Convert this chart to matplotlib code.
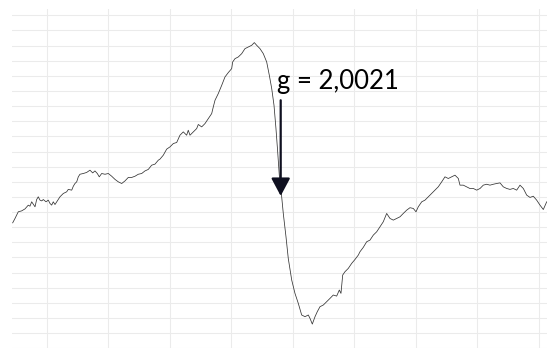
import matplotlib
matplotlib.use("Agg")
import matplotlib.pyplot as plt

# EPR-like spectrum (field in grid units x10, intensity in grid units)
field = [-5.53, -5.15, -4.62, -4.07, -3.53, -2.99, -2.72, -2.44, -2.18, -1.90,
         -1.63, -1.37, -1.09, -0.81, -0.55, -0.11, 0.26, 0.54, 0.81, 1.07,
         1.35, 1.63, 2.16, 2.70, 3.25, 3.51, 4.07, 4.33, 4.60, 4.88,
         5.14, 5.41, 5.95, 6.50, 7.04, 7.48, 7.85, 8.23, 8.55, 8.94,
         9.48, 10.02, 10.57, 11.11, 11.64, 12.20, 12.73, 13.27, 13.82, 14.36,
         14.89, 15.45, 15.98, 16.52, 17.07, 17.61, 18.15, 18.42, 18.96, 19.51,
         20.05, 20.59, 21.14, 21.67, 22.21, 22.76, 23.02, 23.30, 23.84, 24.39,
         24.65, 25.20, 25.74, 26.28, 26.83, 27.09, 27.37, 27.90, 28.46, 28.99,
         29.53, 30.08, 30.24, 30.62, 31.15, 31.71, 32.24, 32.78, 33.33, 33.76,
         34.15, 34.68, 35.22, 35.77, 36.20, 36.59, 36.96, 37.28, 37.56, 37.82,
         37.98, 38.21, 38.47, 38.91, 39.28, 39.84, 40.37, 40.91, 41.46, 42.00,
         42.54, 42.81, 43.19, 43.63, 44.00, 44.44, 44.98, 45.53, 46.07, 46.60,
         47.15, 47.58, 47.85, 48.13, 48.50, 49.04, 49.59, 50.13, 50.67, 50.94,
         51.48, 52.03, 52.57, 53.11, 53.66, 54.20, 54.73, 55.28, 55.82, 56.36,
         56.91, 57.45, 57.98, 58.54, 59.07, 59.61, 60.05, 60.42, 60.98, 61.51,
         62.05, 62.60, 63.14, 63.67, 64.23, 64.76, 65.30, 65.85, 66.39, 66.93,
         67.20, 67.74, 68.28, 68.81, 69.37, 69.92, 70.46, 70.99, 71.54, 72.08,
         72.62, 73.17, 73.71, 74.24, 74.80, 75.33, 75.87, 76.42, 76.96, 77.50,
         78.05, 78.59, 79.12, 79.67, 80.21, 80.75, 81.30]
signal = [8.29, 8.58, 9.02, 9.08, 9.21, 9.46, 9.39, 9.68, 9.52, 9.35,
          9.83, 10.01, 9.79, 9.74, 9.83, 9.68, 9.79, 9.57, 9.46, 9.68,
          9.50, 9.68, 10.01, 10.23, 10.34, 10.50, 10.45, 10.71, 10.89, 11.00,
          11.33, 11.50, 11.55, 11.62, 11.77, 11.59, 11.72, 11.55, 11.33, 11.55,
          11.50, 11.55, 11.37, 11.16, 11.00, 10.89, 11.06, 11.29, 11.29, 11.37,
          11.50, 11.55, 11.72, 11.82, 12.10, 12.17, 12.43, 12.50, 12.76, 13.16,
          13.31, 13.53, 13.60, 14.08, 14.30, 14.08, 14.41, 14.08, 14.30, 14.52,
          14.79, 14.63, 14.85, 15.18, 15.51, 15.95, 16.39, 16.83, 17.38, 17.93,
          18.22, 18.48, 18.92, 19.14, 19.25, 19.47, 19.80, 19.91, 20.02, 20.20,
          20.02, 19.80, 19.47, 18.92, 18.04, 17.16, 16.06, 14.52, 12.98, 11.44,
          10.89, 10.01, 8.91, 7.37, 5.94, 4.51, 3.63, 2.97, 2.20, 2.09,
          2.20, 1.98, 1.60, 2.09, 2.42, 2.75, 2.86, 3.08, 3.30, 3.52,
          3.45, 3.85, 3.63, 4.84, 5.06, 5.28, 5.61, 5.87, 6.16, 6.38,
          6.67, 7.04, 7.15, 7.48, 7.70, 8.03, 8.36, 8.91, 8.58, 8.47,
          8.58, 8.69, 8.91, 9.13, 9.29, 9.24, 9.02, 9.35, 9.68, 9.79,
          10.01, 10.23, 10.45, 10.67, 11.00, 11.33, 11.22, 11.33, 11.44, 11.22,
          10.78, 10.78, 10.67, 10.56, 10.56, 10.45, 10.56, 10.78, 10.84, 10.78,
          10.84, 10.89, 10.93, 10.67, 10.56, 10.50, 10.56, 10.45, 10.78, 10.56,
          10.12, 9.97, 10.05, 9.79, 9.46, 9.17, 9.68]

label = "g = 2,0021"
arrow_field = 38.05
arrow_top = 16.39
arrow_tip = 10.07

fig = plt.figure(figsize=(5.47, 3.49), dpi=100)
ax = fig.add_axes([12 / 547, 0.7 / 349, 1 - 12 / 547, 339 / 349])

ax.plot(field, signal, color="#333333", lw=0.55)

ax.set_xlim(-5.64, 81.35)
ax.set_ylim(0, 22.4)
ax.set_xticks(range(0, 81, 10))
ax.set_yticks(range(0, 23))
ax.grid(True, color="#ebebeb", lw=0.75)
ax.set_axisbelow(True)
ax.tick_params(left=False, bottom=False, labelleft=False, labelbottom=False)
for s in ax.spines.values():
    s.set_visible(False)

ax.annotate("", xy=(arrow_field, arrow_tip), xytext=(arrow_field, arrow_top),
            arrowprops=dict(arrowstyle="-|>,head_length=0.6,head_width=0.32",
                            mutation_scale=18, color="#0f1020", lw=1.6,
                            shrinkA=0, shrinkB=0))
ax.text(37.4, 17.16, label, fontsize=18.5, family="Lato", va="baseline", color="black")

fig.savefig("out.png", dpi=100)
